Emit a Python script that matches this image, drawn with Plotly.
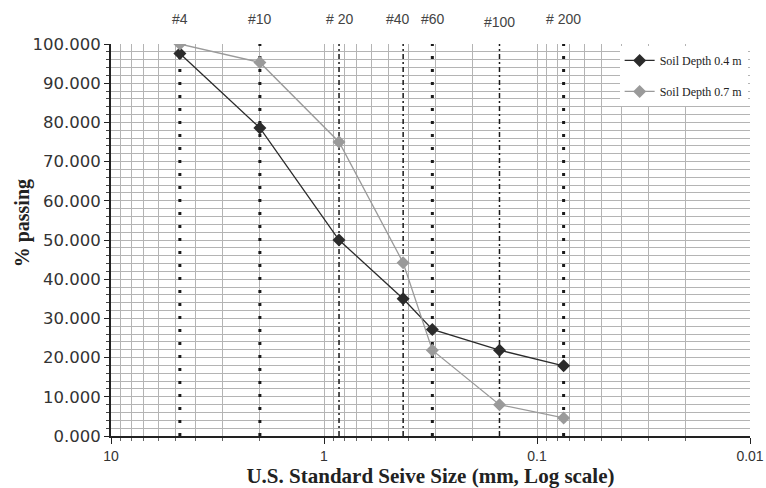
import numpy as np
import plotly.graph_objects as go

# Data
sieve_labels = ["#4", "#10", "# 20", "#40", "#60", "#100", "# 200"]
sieve_sizes = [4.75, 2.0, 0.85, 0.425, 0.31, 0.15, 0.075]
depth_04 = [97.6, 78.6, 50.0, 35.0, 27.2, 21.9, 17.9]
depth_07 = [100.0, 95.3, 75.0, 44.2, 21.9, 8.0, 4.6]
series_names = ["Soil Depth 0.4 m", "Soil Depth 0.7 m"]
x_tick_vals = [10, 1, 0.1, 0.01]
x_tick_text = ["10", "1", "0.1", "0.01"]

heavy = {"#4", "#10", "#60", "# 200"}
label_shift = {"#40": -5, "#60": 1}

fig = go.Figure()

# vertical sieve reference lines
for lab, s in zip(sieve_labels, sieve_sizes):
    if lab in heavy:
        line = dict(color="#1a1a1a", width=3, dash="3px,10px")
    else:
        line = dict(color="#1a1a1a", width=1.5, dash="5px,3px,2px,3px")
    fig.add_trace(go.Scatter(x=[s, s], y=[0, 100], mode="lines", line=line,
                             showlegend=False, hoverinfo="skip"))

fig.add_trace(go.Scatter(x=sieve_sizes, y=depth_04, name=series_names[0],
                         mode="lines+markers", legendgroup="a",
                         line=dict(color="#2b2b2b", width=1.3),
                         marker=dict(symbol="diamond", size=10, color="#2b2b2b")))
fig.add_trace(go.Scatter(x=sieve_sizes, y=depth_07, name=series_names[1],
                         mode="lines+markers", legendgroup="b",
                         line=dict(color="#9a9a9a", width=1.3),
                         marker=dict(symbol="diamond", size=10, color="#9a9a9a")))

# sieve labels on top
for lab, s in zip(sieve_labels, sieve_sizes):
    yy = 1.056 if lab == "#100" else 1.064
    fig.add_annotation(x=np.log10(s), y=yy, xref="x", yref="paper", text=lab,
                       showarrow=False, yanchor="middle", xanchor="center",
                       xshift=label_shift.get(lab, 0),
                       font=dict(family="Arial", size=14, color="#444"))

# y-axis title (placed as annotation to match the reference offset)
fig.add_annotation(x=-0.139, y=0.543, xref="paper", yref="paper",
                   text="<b>% passing</b>", textangle=-90, showarrow=False,
                   xanchor="center", yanchor="middle",
                   font=dict(family="Liberation Serif", size=20, color="#222"))

fig.update_layout(
    width=766, height=488,
    margin=dict(l=111, r=16, t=44, b=52),
    paper_bgcolor="white", plot_bgcolor="white",
    showlegend=True,
    legend=dict(x=0.796, y=0.995, xanchor="left", yanchor="top",
                bgcolor="white", font=dict(family="Liberation Serif", size=12, color="#222"),
                tracegroupgap=12, itemwidth=30),
    xaxis=dict(type="log", range=[1, -2], tickvals=x_tick_vals, ticktext=x_tick_text,
               automargin=False,
               showgrid=True, gridcolor="#b4b4b4", gridwidth=1,
               showline=True, linecolor="#222", linewidth=2,
               ticks="outside", ticklen=6, tickcolor="#222",
               tickfont=dict(family="Arial", size=14, color="#333"),
               minor=dict(dtick="D1", showgrid=True, gridcolor="#b4b4b4", ticks="outside",
                          ticklen=3, tickcolor="#666"),
               zeroline=False,
               title=dict(text="<b>U.S. Standard Seive Size (mm, Log scale)</b>",
                          font=dict(family="Liberation Serif", size=21, color="#222"),
                          standoff=0)),
    yaxis=dict(range=[0, 100], dtick=10, tickformat=".3f",
               automargin=False,
               showgrid=True, gridcolor="#b4b4b4", gridwidth=1,
               showline=True, linecolor="#222", linewidth=2,
               ticks="outside", ticklen=5, tickcolor="#222",
               tickfont=dict(family="DejaVu Sans", size=16.5, color="#333"),
               minor=dict(dtick=2, showgrid=True, gridcolor="#b4b4b4", ticks="outside",
                          ticklen=3, tickcolor="#444"),
               zeroline=False),
)

fig.write_html("out.html",
               config={"displayModeBar": False},
               post_script="document.body.style.margin='0px';document.body.style.overflow='hidden';")
